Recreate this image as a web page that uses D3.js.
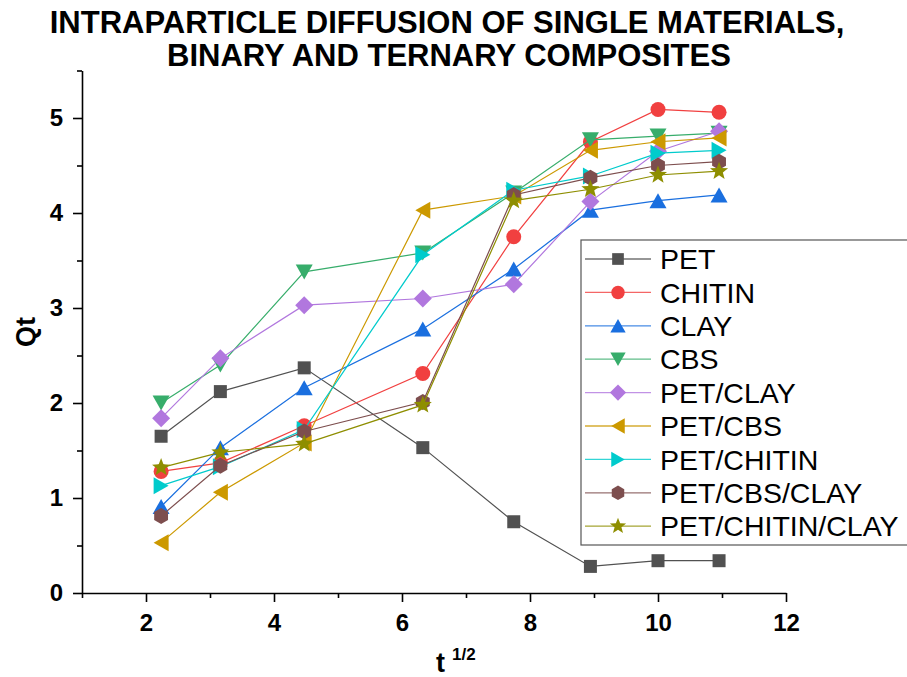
<!DOCTYPE html>
<html>
<head>
<meta charset="utf-8">
<script src="https://cdn.jsdelivr.net/npm/d3@7/dist/d3.min.js"></script>
<style>
  html, body { margin: 0; padding: 0; background: #fff; }
  svg { display: block; }
  text { font-family: "Liberation Sans", Arial, Helvetica, sans-serif; }
</style>
</head>
<body>
<svg id="chart" width="907" height="677"></svg>
<script>
// t^(1/2) sampling points
const tHalf = [2.236, 3.162, 4.472, 6.325, 7.746, 8.944, 10.0, 10.954];

// Qt for each material
const PET            = [1.65, 2.12, 2.37, 1.53, 0.75, 0.28, 0.34, 0.34];
const CHITIN         = [1.28, 1.37, 1.76, 2.31, 3.75, 4.75, 5.09, 5.06];
const CLAY           = [0.91, 1.53, 2.16, 2.78, 3.41, 4.03, 4.13, 4.19];
const CBS            = [2.00, 2.40, 3.38, 3.58, 4.21, 4.77, 4.81, 4.84];
const PET_CLAY       = [1.84, 2.47, 3.03, 3.10, 3.25, 4.12, 4.65, 4.86];
const PET_CBS        = [0.53, 1.06, 1.58, 4.03, 4.18, 4.66, 4.75, 4.79];
const PET_CHITIN     = [1.13, 1.33, 1.72, 3.56, 4.24, 4.39, 4.63, 4.66];
const PET_CBS_CLAY   = [0.81, 1.34, 1.70, 2.01, 4.19, 4.37, 4.50, 4.54];
const PET_CHITIN_CLAY= [1.32, 1.48, 1.57, 1.98, 4.13, 4.25, 4.40, 4.44];

const seriesNames = ["PET", "CHITIN", "CLAY", "CBS", "PET/CLAY", "PET/CBS",
                     "PET/CHITIN", "PET/CBS/CLAY", "PET/CHITIN/CLAY"];
const seriesValues = [PET, CHITIN, CLAY, CBS, PET_CLAY, PET_CBS,
                      PET_CHITIN, PET_CBS_CLAY, PET_CHITIN_CLAY];
const seriesColors = ["#515151", "#F14040", "#1A6FDF", "#37AD6B", "#B177DE",
                      "#CC9900", "#00CBCC", "#7D4E4E", "#8E8E00"];
const seriesShapes = ["square", "circle", "up", "down", "diamond",
                      "left", "right", "hexagon", "star"];

const xMajor = [2, 4, 6, 8, 10, 12];
const xMinor = [1, 3, 5, 7, 9, 11];
const yMajor = [0, 1, 2, 3, 4, 5];
const yMinor = [0.5, 1.5, 2.5, 3.5, 4.5, 5.5];

const svg = d3.select("#chart");

const x = d3.scaleLinear().domain([1, 12]).range([82, 786]);
const y = d3.scaleLinear().domain([0, 5.5]).range([593, 70.5]);

// marker path builders, centred on 0,0
function shapePath(kind, s) {
  const p = d3.path();
  const poly = pts => { pts.forEach((q, i) => i ? p.lineTo(q[0], q[1]) : p.moveTo(q[0], q[1])); p.closePath(); };
  switch (kind) {
    case "square": { const h = 6.5 * s; poly([[-h,-h],[h,-h],[h,h],[-h,h]]); break; }
    case "circle": { p.arc(0, 0, 7.5 * s, 0, 2 * Math.PI); break; }
    case "up":    { const w = 8.5 * s, h = 7.5 * s; poly([[0,-h],[w,h],[-w,h]]); break; }
    case "down":  { const w = 8.5 * s, h = 7.5 * s; poly([[-w,-h],[w,-h],[0,h]]); break; }
    case "left":  { const w = 8.5 * s, h = 7.5 * s; poly([[-h,0],[h,-w],[h,w]]); break; }
    case "right": { const w = 8.5 * s, h = 7.5 * s; poly([[h,0],[-h,w],[-h,-w]]); break; }
    case "diamond": { const r = 9 * s; poly([[0,-r],[r,0],[0,r],[-r,0]]); break; }
    case "hexagon": {
      const r = 8 * s, pts = [];
      for (let i = 0; i < 6; i++) { const a = Math.PI / 6 + i * Math.PI / 3; pts.push([r * Math.cos(a), r * Math.sin(a)]); }
      poly(pts); break;
    }
    case "star": {
      const R = 9.5 * s, r = 4 * s, pts = [];
      for (let i = 0; i < 10; i++) {
        const a = -Math.PI / 2 + i * Math.PI / 5, rr = i % 2 ? r : R;
        pts.push([rr * Math.cos(a), rr * Math.sin(a)]);
      }
      poly(pts); break;
    }
  }
  return p.toString();
}

// axes
const axisColor = "#000";
const xAxisG = svg.append("g").attr("transform", `translate(0,${y(0)})`);
xAxisG.call(d3.axisBottom(x).tickValues(xMajor).tickSize(9).tickSizeOuter(0).tickPadding(12).tickFormat(d3.format("d")));
xAxisG.append("g").call(d3.axisBottom(x).tickValues(xMinor).tickSize(5).tickSizeOuter(0).tickFormat(""))
  .select(".domain").remove();

const yAxisG = svg.append("g").attr("transform", `translate(${x(1)},0)`);
yAxisG.call(d3.axisLeft(y).tickValues(yMajor).tickSize(9).tickSizeOuter(0).tickPadding(10).tickFormat(d3.format("d")));
yAxisG.append("g").call(d3.axisLeft(y).tickValues(yMinor).tickSize(5).tickSizeOuter(0).tickFormat(""))
  .select(".domain").remove();

svg.selectAll(".domain, .tick line").attr("stroke", axisColor).attr("stroke-width", 1.6);
svg.selectAll(".tick text")
  .attr("fill", "#000")
  .style("font-family", '"Liberation Sans", Arial, sans-serif')
  .style("font-size", "24px")
  .style("font-weight", "bold");

// series: line then markers, in order
const line = d3.line().x((d, i) => x(tHalf[i])).y(d => y(d));
seriesValues.forEach((vals, k) => {
  const g = svg.append("g").attr("class", "series");
  g.append("path")
    .attr("d", line(vals))
    .attr("fill", "none")
    .attr("stroke", seriesColors[k])
    .attr("stroke-width", 1.2);
  g.selectAll("path.mk").data(vals).join("path")
    .attr("class", "mk")
    .attr("d", shapePath(seriesShapes[k], 1))
    .attr("transform", (d, i) => `translate(${x(tHalf[i])},${y(d)})`)
    .attr("fill", seriesColors[k]);
});

// legend
const lg = svg.append("g").attr("transform", "translate(581,240)");
lg.append("rect")
  .attr("x", 0).attr("y", 0).attr("width", 340).attr("height", 305)
  .attr("fill", "#fff").attr("stroke", "#555").attr("stroke-width", 1.2);
seriesNames.forEach((name, k) => {
  const cy = 19 + k * 33.4;
  lg.append("line").attr("x1", 4).attr("x2", 70).attr("y1", cy).attr("y2", cy)
    .attr("stroke", seriesColors[k]).attr("stroke-width", 1.3).attr("stroke-opacity", 0.8);
  lg.append("path").attr("d", shapePath(seriesShapes[k], 0.9))
    .attr("transform", `translate(37,${cy})`).attr("fill", seriesColors[k]);
  lg.append("text").attr("x", 79).attr("y", cy).attr("dy", "0.36em")
    .style("font-size", "28.5px").attr("fill", "#000").text(name);
});

// title
const title = svg.append("text")
  .attr("text-anchor", "middle")
  .style("font-size", "31px").style("font-weight", "bold").attr("fill", "#000");
title.append("tspan").attr("x", 447).attr("y", 33).text("INTRAPARTICLE DIFFUSION OF SINGLE MATERIALS,");
title.append("tspan").attr("x", 449).attr("y", 66).text("BINARY AND TERNARY COMPOSITES");

// axis titles
svg.append("text")
  .attr("transform", "translate(35,332) rotate(-90)")
  .attr("text-anchor", "middle")
  .style("font-size", "27px").style("font-weight", "bold").attr("fill", "#000")
  .text("Qt");

const xt = svg.append("text")
  .attr("x", 436).attr("y", 672)
  .style("font-size", "27px").style("font-weight", "bold").attr("fill", "#000");
xt.append("tspan").text("t");
xt.append("tspan").attr("dx", 7).attr("dy", -12).style("font-size", "17px").text("1/2");
</script>
</body>
</html>
